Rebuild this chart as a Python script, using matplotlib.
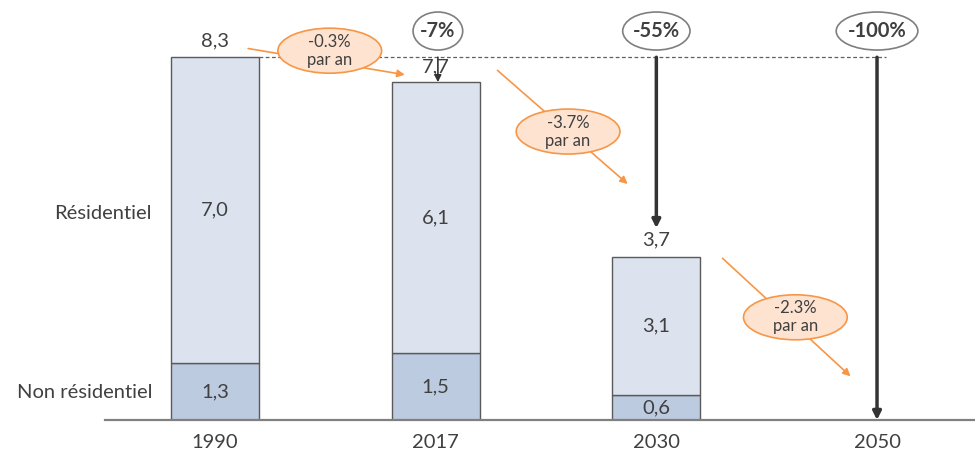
import matplotlib
matplotlib.use('Agg')
import matplotlib.pyplot as plt
from matplotlib.patches import Ellipse

# données
annees = ['1990', '2017', '2030', '2050']
non_residentiel = [1.3, 1.53, 0.57, 0.0]
residentiel = [7.0, 6.2, 3.16, 0.0]
totaux = [8.3, 7.73, 3.73, 0.0]
lbl_non_res = ['1,3', '1,5', '0,6']
lbl_res = ['7,0', '6,1', '3,1']
lbl_tot = ['8,3', '7,7', '3,7']
reductions = ['-7%', '-55%', '-100%']
taux_annuels = ['-0.3%\npar an', '-3.7%\npar an', '-2.3%\npar an']

plt.rcParams['font.family'] = ['Lato', 'DejaVu Sans']

C_RES = '#DCE3EF'
C_NRES = '#BCCBE0'
C_EDGE = '#5A5A5A'
C_TXT = '#404040'
C_ORANGE = '#F79646'
C_PEACH = '#FDE3D0'
FS = 14.5

fig = plt.figure(figsize=(9.75, 4.5), dpi=100, facecolor='white')
ax = fig.add_axes([105 / 975, 30 / 450, 870 / 975, 420 / 450])
ax.set_xlim(-0.4985, 3.444)
ax.set_ylim(0, 9.61)
ax.axis('off')

x = list(range(len(annees)))
w = 0.4
n = 3  # barres dessinées
ax.bar(x[:n], non_residentiel[:n], width=w, color=C_NRES, edgecolor=C_EDGE, linewidth=1.0, zorder=3)
ax.bar(x[:n], residentiel[:n], bottom=non_residentiel[:n], width=w, color=C_RES,
       edgecolor=C_EDGE, linewidth=1.0, zorder=3)

# axe horizontal
ax.plot([-0.4985, 3.444], [0, 0], color='#808080', linewidth=1.6, zorder=4, clip_on=False)

for i in range(n):
    ax.text(x[i], non_residentiel[i] / 2, lbl_non_res[i], ha='center', va='center',
            fontsize=FS, color=C_TXT, zorder=5)
    ax.text(x[i], non_residentiel[i] + residentiel[i] / 2, lbl_res[i], ha='center', va='center',
            fontsize=FS, color=C_TXT, zorder=5)
ax.text(x[0], totaux[0] + 0.38, lbl_tot[0], ha='center', va='center', fontsize=FS, color=C_TXT)
ax.text(x[1], totaux[1] + 0.36, lbl_tot[1], ha='center', va='center', fontsize=FS, color=C_TXT)
ax.text(x[2], totaux[2] + 0.39, lbl_tot[2], ha='center', va='center', fontsize=FS, color=C_TXT)

# années
for i, a in enumerate(annees):
    ax.text(x[i], -0.52, a, ha='center', va='center', fontsize=FS, color=C_TXT, clip_on=False)

# libellés de séries
ax.text(-0.285, non_residentiel[0] + residentiel[0] / 2 - 0.07, 'Résidentiel', ha='right', va='center',
        fontsize=FS, color=C_TXT)
ax.text(-0.285, non_residentiel[0] / 2 - 0.02, 'Non résidentiel', ha='right', va='center',
        fontsize=FS, color=C_TXT)

# ligne pointillée de référence 1990
ax.plot([x[0] + w / 2, x[3] + 0.04], [totaux[0], totaux[0]], color='#606060',
        linestyle=(0, (3, 2)), linewidth=0.9, zorder=2)

# flèches de réduction
ax.annotate('', xy=(x[1] + 0.01, totaux[1]), xytext=(x[1] + 0.01, totaux[0]),
            arrowprops=dict(arrowstyle='-|>', color='#333333', lw=1.2, mutation_scale=10,
                            shrinkA=0, shrinkB=0), zorder=6)
ax.annotate('', xy=(x[2], totaux[2] + 0.66), xytext=(x[2], totaux[0]),
            arrowprops=dict(arrowstyle='-|>', color='#333333', lw=2.5, mutation_scale=12,
                            shrinkA=0, shrinkB=0), zorder=6)
ax.annotate('', xy=(x[3], totaux[3]), xytext=(x[3], totaux[0]),
            arrowprops=dict(arrowstyle='-|>', color='#333333', lw=2.5, mutation_scale=12,
                            shrinkA=0, shrinkB=0), zorder=6)

# bulles de réduction
bulle_w = [0.225, 0.305, 0.37]
ypx = 43.7  # pixels par unité
for i, r in enumerate(reductions):
    xc = x[i + 1] + (0.01 if i == 0 else 0)
    e = Ellipse((xc, 8.9), bulle_w[i], 38 / ypx, facecolor='white', edgecolor='#7F7F7F',
                linewidth=1.2, zorder=7)
    ax.add_patch(e)
    ax.text(xc, 8.9, r, ha='center', va='center', fontsize=FS, fontweight='bold',
            color=C_TXT, zorder=8)

# taux annuels (flèches orange + bulles)
fleches = [((0.15, 8.5), (0.86, 7.9)), ((1.28, 8.0), (1.87, 5.4)), ((2.3, 3.7), (2.88, 1.0))]
centres = [(0.52, 8.45), (1.6, 6.6), (2.63, 2.35)]
for (p0, p1), (cx, cy), t in zip(fleches, centres, taux_annuels):
    ax.annotate('', xy=p1, xytext=p0,
                arrowprops=dict(arrowstyle='-|>', color=C_ORANGE, lw=1.2, mutation_scale=11,
                                shrinkA=0, shrinkB=0), zorder=6)
    e = Ellipse((cx, cy), 0.47, 45 / ypx, facecolor=C_PEACH, edgecolor=C_ORANGE,
                linewidth=1.2, zorder=7)
    ax.add_patch(e)
    ax.text(cx, cy, t, ha='center', va='center', fontsize=12, color=C_TXT,
            linespacing=1.15, zorder=8)

fig.savefig('out.png', dpi=100, facecolor='white')
